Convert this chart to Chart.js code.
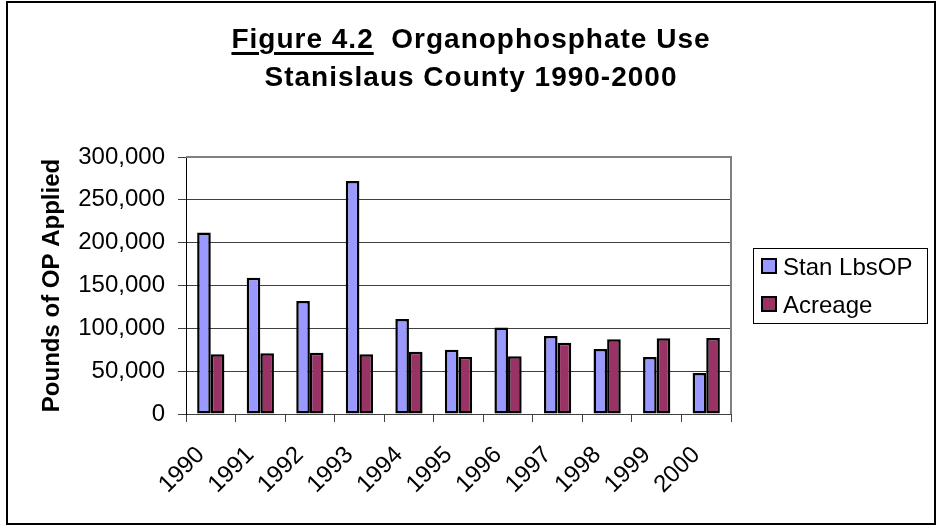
<!DOCTYPE html>
<html lang="en">
<head>
<meta charset="UTF-8" />
<title>Organophosphate Use - Stanislaus County 1990-2000</title>
<script src="https://cdn.jsdelivr.net/npm/chart.js"></script>
<style>
  body { margin: 0; background: #fff; font-family: "Liberation Sans", Arial, sans-serif; }
  #wrap { position: relative; width: 939px; height: 529px; }
  #frame { position: absolute; left: 6px; top: 1px; width: 930px; height: 524px; box-sizing: border-box; border: 2px solid #000; pointer-events: none; }
  #title { position: absolute; left: 0; top: 20px; width: 942px; text-align: center; font-weight: bold; font-size: 28px; line-height: 38px; letter-spacing: 1px; color: #000; }
  #title u { text-decoration-thickness: 3px; text-underline-offset: 4px; }
  canvas { position: absolute; left: 0; top: 0; }
</style>
</head>
<body>
<div id="wrap">
  <canvas id="chart" width="939" height="529"></canvas>
  <div id="title"><u>Figure 4.2</u>&nbsp; Organophosphate Use<br>Stanislaus County 1990-2000</div>
  <div id="frame"></div>
</div>

<script>
// data
const years = ['1990', '1991', '1992', '1993', '1994', '1995', '1996', '1997', '1998', '1999', '2000'];
const stanLbsOP = [212000, 159000, 132000, 272000, 111000, 75000, 101000, 91000, 76000, 66500, 48000];
const acreage = [69700, 70800, 71600, 69700, 72700, 66500, 67300, 83200, 87200, 88400, 88700];
const yMax = 300000;
const yStep = 50000;

Chart.defaults.font.family = '"Liberation Sans", Arial, sans-serif';
Chart.defaults.color = '#000';

// gray frame round the plot area (top and right sides)
const plotFrame = {
  id: 'plotFrame',
  beforeDatasetsDraw(chart) {
    const { ctx, chartArea: a } = chart;
    ctx.save();
    ctx.strokeStyle = '#808080';
    ctx.lineWidth = 2;
    ctx.beginPath();
    ctx.moveTo(a.left, a.top);
    ctx.lineTo(a.right, a.top);
    ctx.lineTo(a.right, a.bottom);
    ctx.stroke();
    ctx.restore();
  }
};

// boxed legend to the right of the plot, like the Excel one
const boxLegend = {
  id: 'boxLegend',
  afterDraw(chart) {
    const { ctx, chartArea: a } = chart;
    const x0 = a.right + 22;
    const y0 = 248;
    ctx.save();
    ctx.strokeStyle = '#000';
    ctx.lineWidth = 1;
    ctx.strokeRect(x0 + 0.5, y0 + 0.5, 174, 75);
    ctx.font = '24px "Liberation Sans", Arial, sans-serif';
    ctx.textBaseline = 'alphabetic';
    chart.data.datasets.forEach((ds, i) => {
      const top = y0 + 11 + i * 38;
      ctx.fillStyle = ds.backgroundColor;
      ctx.fillRect(x0 + 9, top, 14, 14);
      ctx.lineWidth = 2;
      ctx.strokeRect(x0 + 9, top, 14, 14);
      ctx.fillStyle = '#000';
      ctx.fillText(ds.label, x0 + 30, top + 16);
    });
    ctx.restore();
  }
};

new Chart(document.getElementById('chart'), {
  type: 'bar',
  data: {
    labels: years,
    datasets: [
      { label: 'Stan LbsOP', data: stanLbsOP, backgroundColor: '#9999FF' },
      { label: 'Acreage', data: acreage, backgroundColor: '#993366' }
    ]
  },
  options: {
    responsive: false,
    animation: false,
    categoryPercentage: 0.55,
    barPercentage: 1,
    datasets: {
      bar: { borderColor: '#000', borderWidth: 2.5, borderSkipped: false }
    },
    layout: { padding: { left: 0, top: 157, right: 208, bottom: 0 } },
    plugins: {
      legend: { display: false },
      tooltip: { enabled: false }
    },
    scales: {
      x: {
        grid: { offset: true, drawOnChartArea: false, tickLength: 8, color: '#404040' },
        border: { color: '#404040' },
        ticks: { font: { size: 24 }, minRotation: 45, maxRotation: 45, autoSkip: false, padding: 19, labelOffset: -10 },
        afterFit(s) { s.height = 115; }
      },
      y: {
        min: 0,
        max: yMax,
        ticks: {
          stepSize: yStep,
          font: { size: 24 },
          padding: 13,
          callback: v => v.toLocaleString('en-US')
        },
        grid: { color: '#404040', tickLength: 8 },
        border: { color: '#000' },
        title: {
          display: true,
          text: 'Pounds of OP Applied',
          font: { size: 24, weight: 'bold' },
          padding: { top: 38, bottom: 0 }
        },
        afterFit(s) { s.width = 186; }
      }
    }
  },
  plugins: [plotFrame, boxLegend]
});
</script>
</body>
</html>
